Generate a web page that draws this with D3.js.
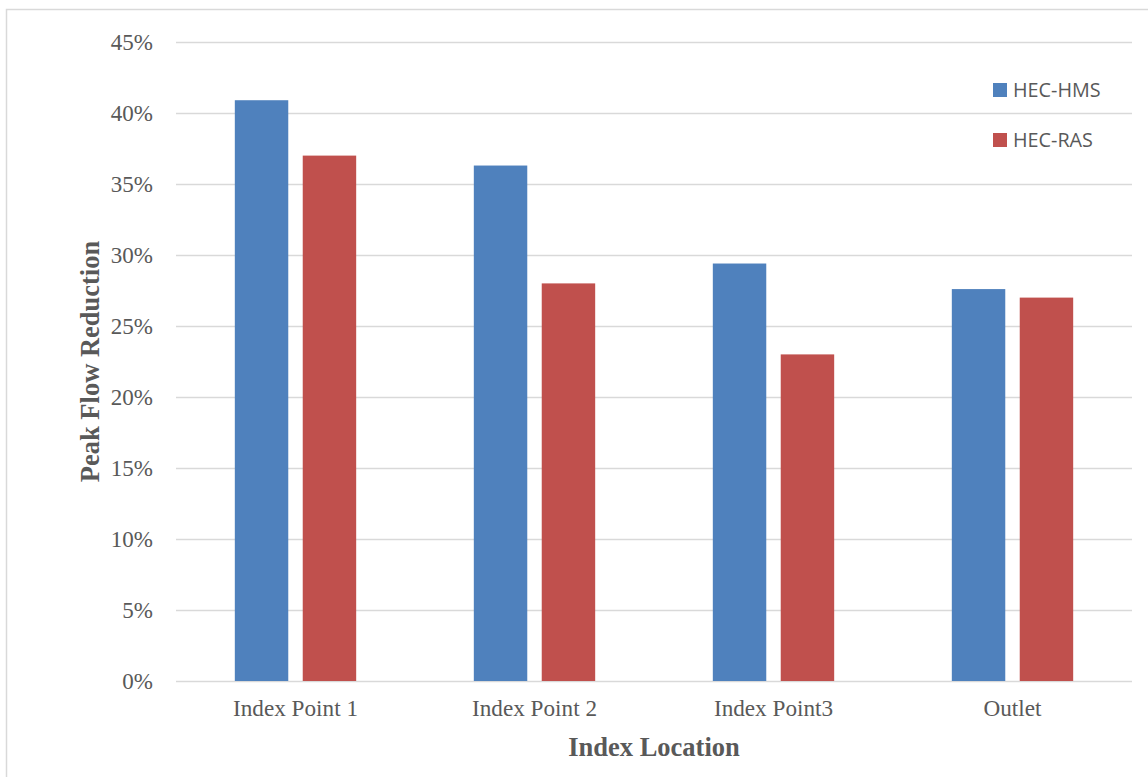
<!DOCTYPE html>
<html>
<head>
<meta charset="utf-8">
<script src="https://cdn.jsdelivr.net/npm/d3@7"></script>
<style>
  html, body { margin: 0; padding: 0; background: #fff; }
  svg { display: block; }
</style>
</head>
<body>
<svg id="chart" width="1148" height="777"></svg>
<script>
const categories = ["Index Point 1", "Index Point 2", "Index Point3", "Outlet"];
const seriesNames = ["HEC-HMS", "HEC-RAS"];
const hmsValues = [0.409, 0.363, 0.294, 0.276];
const rasValues = [0.370, 0.280, 0.230, 0.270];
const yTicks = [0, 0.05, 0.10, 0.15, 0.20, 0.25, 0.30, 0.35, 0.40, 0.45];
const colors = ["#4f81bd", "#c0504d"];

const svg = d3.select("#chart");
const W = 1148, H = 777;
const plot = { left: 176, right: 1132, top: 42, bottom: 681 };

// outer chart border
svg.append("rect")
  .attr("x", 6.5).attr("y", 9.5)
  .attr("width", W + 10).attr("height", H + 10)
  .attr("fill", "none").attr("stroke", "#d9d9d9").attr("stroke-width", 1.5);

const x0 = d3.scaleBand().domain(categories).range([plot.left, plot.right]).padding(0);
const x1 = d3.scaleBand().domain(seriesNames).range([0, x0.bandwidth()])
  .paddingInner(0.213).paddingOuter(0.866);
const y = d3.scaleLinear().domain([0, 0.45]).range([plot.bottom, plot.top]);

// gridlines
svg.append("g").selectAll("line").data(yTicks).join("line")
  .attr("x1", plot.left).attr("x2", plot.right)
  .attr("y1", d => Math.round(y(d)) + 0.5).attr("y2", d => Math.round(y(d)) + 0.5)
  .attr("stroke", "#d9d9d9").attr("stroke-width", 1.3);

// y axis labels
const yAxis = d3.axisLeft(y).tickValues(yTicks).tickFormat(d3.format(".0%")).tickSize(0).tickPadding(23);
const gy = svg.append("g").attr("transform", `translate(${plot.left},0)`).call(yAxis);
gy.select(".domain").remove();
gy.selectAll("text")
  .attr("font-family", "'Liberation Serif', 'Times New Roman', serif")
  .attr("font-size", 23).attr("fill", "#595959");

// x axis labels
const xAxis = d3.axisBottom(x0).tickSize(0).tickPadding(19);
const gx = svg.append("g").attr("transform", `translate(0,${plot.bottom})`).call(xAxis);
gx.select(".domain").remove();
gx.selectAll("text")
  .attr("font-family", "'Liberation Serif', 'Times New Roman', serif")
  .attr("font-size", 23.2).attr("fill", "#595959");

// bars
const rows = categories.map((c, i) => ({ cat: c, vals: [hmsValues[i], rasValues[i]] }));
const groups = svg.append("g").selectAll("g").data(rows).join("g")
  .attr("transform", d => `translate(${x0(d.cat)},0)`);
groups.selectAll("rect")
  .data(d => d.vals.map((v, j) => ({ s: seriesNames[j], v, j })))
  .join("rect")
  .attr("x", d => x1(d.s))
  .attr("width", x1.bandwidth())
  .attr("y", d => y(d.v))
  .attr("height", d => y(0) - y(d.v))
  .attr("fill", d => colors[d.j]);

// axis titles
svg.append("text")
  .attr("x", (plot.left + plot.right) / 2).attr("y", 756)
  .attr("text-anchor", "middle")
  .attr("font-family", "'Liberation Serif', 'Times New Roman', serif")
  .attr("font-weight", "bold").attr("font-size", 26.5).attr("fill", "#595959")
  .text("Index Location");

svg.append("text")
  .attr("transform", `translate(99,${(plot.top + plot.bottom) / 2}) rotate(-90)`)
  .attr("text-anchor", "middle")
  .attr("font-family", "'Liberation Serif', 'Times New Roman', serif")
  .attr("font-weight", "bold").attr("font-size", 26.5).attr("fill", "#595959")
  .text("Peak Flow Reduction");

// legend
const legend = svg.append("g");
seriesNames.forEach((s, i) => {
  const ly = 83 + i * 50;
  legend.append("rect").attr("x", 993).attr("y", ly).attr("width", 14).attr("height", 14)
    .attr("fill", colors[i]);
  legend.append("text").attr("x", 1013).attr("y", ly + 14)
    .attr("font-family", "'Open Sans', 'Liberation Sans', sans-serif")
    .attr("font-size", 19.8).attr("fill", "#595959")
    .text(s);
});
</script>
</body>
</html>
